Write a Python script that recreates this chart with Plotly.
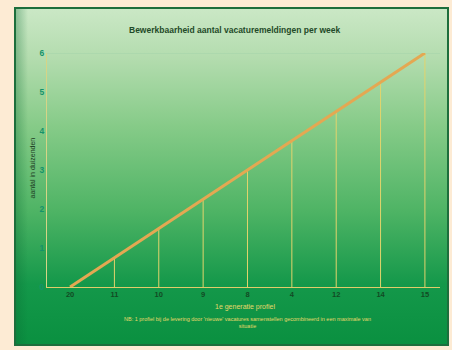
import base64
import plotly.graph_objects as go

# Chart data
categories = ["20", "11", "10", "9", "8", "4", "12", "14", "15"]
values = [0, 0.75, 1.5, 2.25, 3, 3.75, 4.5, 5.25, 6]
y_ticks = [0, 1, 2, 3, 4, 5, 6]

title_text = "Bewerkbaarheid aantal vacaturemeldingen per week"
y_title = "aantal in duizenden"
x_title = "1e generatie profiel"
note_text = ("NB: 1 profiel bij de levering door 'nieuwe' vacatures samenstellen "
             "gecombineerd in een maximale van<br>situatie")

xs = list(range(len(categories)))

# Plot-area geometry (pixels) used to place the background panel
W, H = 452, 350
ml, mr, mt, mb = 47, 12, 53, 63
pw, ph = W - ml - mr, H - mt - mb

def px_to_paper_x(px):
    return (px - ml) / pw

def px_to_paper_y(py):
    return (H - mb - py) / ph

# Vertical gradient panel as an SVG image
svg = ("<svg xmlns='http://www.w3.org/2000/svg' width='100' height='100' preserveAspectRatio='none'>"
       "<defs><linearGradient id='g' x1='0' y1='0' x2='0' y2='1'>"
       "<stop offset='0' stop-color='#cbe8c6'/>"
       "<stop offset='0.15' stop-color='#b3dcae'/>"
       "<stop offset='0.35' stop-color='#86cb88'/>"
       "<stop offset='0.6' stop-color='#4fb465'/>"
       "<stop offset='0.82' stop-color='#14984a'/>"
       "<stop offset='1' stop-color='#0a9040'/>"
       "</linearGradient>"
       "<linearGradient id='e' x1='0' y1='0' x2='1' y2='0'>"
       "<stop offset='0' stop-color='#0a6b33' stop-opacity='0.35'/>"
       "<stop offset='0.03' stop-color='#0a6b33' stop-opacity='0'/>"
       "</linearGradient></defs>"
       "<rect width='100' height='100' fill='url(#g)'/>"
       "<rect width='100' height='100' fill='url(#e)'/></svg>")
src = "data:image/svg+xml;base64," + base64.b64encode(svg.encode()).decode()

panel_x0, panel_x1 = px_to_paper_x(15), px_to_paper_x(448)
panel_y1, panel_y0 = px_to_paper_y(8), px_to_paper_y(345)

# Drop lines from the axis up to each point
drop_x, drop_y = [], []
for x, v in zip(xs, values):
    drop_x += [x, x, None]
    drop_y += [0, v, None]

fig = go.Figure()
fig.add_trace(go.Scatter(x=drop_x, y=drop_y, mode="lines",
                         line=dict(color="#e2d46c", width=1),
                         hoverinfo="skip", showlegend=False))
fig.add_trace(go.Scatter(x=xs, y=values, mode="lines",
                         line=dict(color="#e4a852", width=3),
                         showlegend=False))

fig.update_layout(
    width=W, height=H,
    margin=dict(l=ml, r=mr, t=mt, b=mb),
    paper_bgcolor="#fdebd4",
    plot_bgcolor="rgba(0,0,0,0)",
    font=dict(family="Liberation Sans, Arial, sans-serif"),
    images=[dict(source=src, xref="paper", yref="paper",
                 x=panel_x0, y=panel_y1,
                 sizex=panel_x1 - panel_x0, sizey=panel_y1 - panel_y0,
                 sizing="stretch", layer="below", xanchor="left", yanchor="top")],
    shapes=[
        dict(type="rect", xref="paper", yref="paper",
             x0=panel_x0, x1=panel_x1, y0=panel_y0, y1=panel_y1,
             line=dict(color="#1d6e3c", width=2), layer="above"),
        dict(type="line", xref="paper", yref="y", x0=0, x1=1, y0=6, y1=6,
             line=dict(color="#a3d3aa", width=1), layer="below"),
    ],
    annotations=[
        dict(text="<b>" + title_text + "</b>", xref="paper", yref="paper",
             x=px_to_paper_x(234), y=px_to_paper_y(23), showarrow=False,
             font=dict(size=8.5, color="#1f4a28")),
        dict(text=y_title, xref="paper", yref="paper", textangle=-90,
             x=px_to_paper_x(26), y=px_to_paper_y(168), showarrow=False,
             font=dict(size=7, color="#1d3a22")),
        dict(text=x_title, xref="paper", yref="paper",
             x=px_to_paper_x(245), y=px_to_paper_y(313), showarrow=False,
             font=dict(size=7, color="#e6d86a")),
        dict(text=note_text, xref="paper", yref="paper",
             x=px_to_paper_x(247), y=px_to_paper_y(331), showarrow=False,
             font=dict(size=5.5, color="#e6d86a"), align="center"),
    ],
)

fig.update_xaxes(range=[-0.52, 8.34], tickmode="array", tickvals=xs,
                 ticktext=["<b>" + c + "</b>" for c in categories],
                 showgrid=False, zeroline=False, showline=True, linecolor="#e0cc6a",
                 linewidth=1, ticks="", tickfont=dict(size=7.5, color="#124a24"))
fig.update_yaxes(range=[0, 6], tickmode="array", tickvals=y_ticks,
                 ticktext=["<b>" + str(t) + "</b>" for t in y_ticks],
                 showgrid=False, zeroline=False, showline=True, linecolor="#d6d486",
                 linewidth=1, ticks="", tickfont=dict(size=8.5, color="#15926a"))

fig.write_html("out.html")
